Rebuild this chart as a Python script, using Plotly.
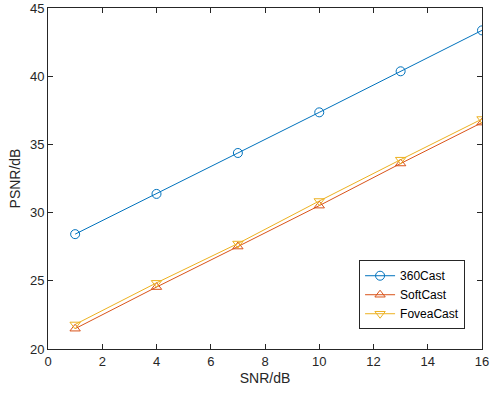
import plotly.graph_objects as go

snr = [1, 4, 7, 10, 13, 16]
cast360 = [28.42, 31.37, 34.37, 37.35, 40.36, 43.36]
softcast = [21.49, 24.54, 27.51, 30.51, 33.6, 36.6]
foveacast = [21.8, 24.85, 27.73, 30.85, 33.88, 36.86]

x_ticks = [0, 2, 4, 6, 8, 10, 12, 14, 16]
y_ticks = [20, 25, 30, 35, 40, 45]

fig = go.Figure()
series = [
    ("360Cast", cast360, "#0072BD", "circle-open"),
    ("SoftCast", softcast, "#D95319", "triangle-up-open"),
    ("FoveaCast", foveacast, "#EDB120", "triangle-down-open"),
]
for name, ys, col, sym in series:
    fig.add_trace(go.Scatter(
        x=snr, y=ys, name=name, mode="lines+markers",
        line=dict(color=col, width=1),
        marker=dict(symbol=sym, size=9, color=col, line=dict(color=col, width=1)),
    ))

FONT = "Liberation Sans, Arial, Helvetica"
axis_common = dict(
    showline=True, linecolor="#262626", linewidth=1, mirror="ticks",
    ticks="inside", ticklen=5, tickcolor="#262626", showgrid=False,
    zeroline=False, automargin=False,
    tickfont=dict(family=FONT, size=13, color="#262626"),
)
fig.update_xaxes(range=[0, 16], tickvals=x_ticks,
                 title=dict(text="SNR/dB", standoff=5,
                            font=dict(family=FONT, size=14, color="#262626")),
                 **axis_common)
fig.update_yaxes(range=[20, 45], tickvals=y_ticks,
                 title=dict(text="PSNR/dB", standoff=6,
                            font=dict(family=FONT, size=14, color="#262626")),
                 **axis_common)

fig.update_layout(
    width=490, height=396,
    margin=dict(l=48, r=8, t=8, b=47),
    paper_bgcolor="white", plot_bgcolor="white",
    font=dict(family=FONT, size=13, color="#262626"),
    legend=dict(x=0.961, y=0.058, xanchor="right", yanchor="bottom",
                bgcolor="white", bordercolor="#262626", borderwidth=1,
                font=dict(size=12, color="#000000"), tracegroupgap=0,
                itemwidth=30),
)

fig.write_html("out.html", config={"displayModeBar": False},
               post_script="document.body.style.margin='0';")
